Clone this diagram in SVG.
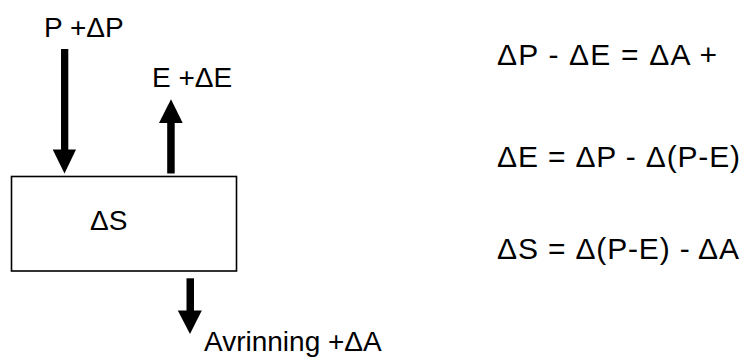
<svg xmlns="http://www.w3.org/2000/svg" width="744" height="357" viewBox="0 0 744 357">
<style>
text{font-family:"Liberation Sans",Arial,sans-serif;fill:#000;white-space:pre}
.lbl{font-size:28px}
.eq{font-size:30px}
.shaft{fill:#000}
</style>
<rect width="744" height="357" fill="#fff"/>
<g id="storage">
<rect x="11.5" y="176.5" width="225" height="94.5" fill="#fff" stroke="#000" stroke-width="1.6"/>
<text class="lbl" x="90" y="230">ΔS</text>
</g>
<g id="connectors">
<g id="arrow-P">
<rect class="shaft" x="61" y="49" width="7.3" height="101"/>
<polygon points="52.7,149.5 76,149.5 64.5,173.5"/>
</g>
<g id="arrow-E">
<rect class="shaft" x="167.2" y="122" width="7.5" height="51.5"/>
<polygon points="159,123 182.7,123 171,99.3"/>
</g>
<g id="arrow-A">
<rect class="shaft" x="186.5" y="278.3" width="7.5" height="33"/>
<polygon points="177.8,310.5 201.8,310.5 190,334"/>
</g>
</g>
<g id="label-P"><text class="lbl" x="44" y="37">P +ΔP</text></g>
<g id="label-E"><text class="lbl" x="152" y="87">E +ΔE</text></g>
<g id="label-A"><text class="lbl" x="204" y="350.5">Avrinning +ΔA</text></g>
<g id="equations">
<text class="eq" x="497" y="65" textLength="220" lengthAdjust="spacing">ΔP - ΔE = ΔA +</text>
<text class="eq" x="497" y="167" textLength="243" lengthAdjust="spacing">ΔE = ΔP - Δ(P-E)</text>
<text class="eq" x="497" y="259" textLength="242" lengthAdjust="spacing">ΔS = Δ(P-E) - ΔA</text>
</g>
</svg>
